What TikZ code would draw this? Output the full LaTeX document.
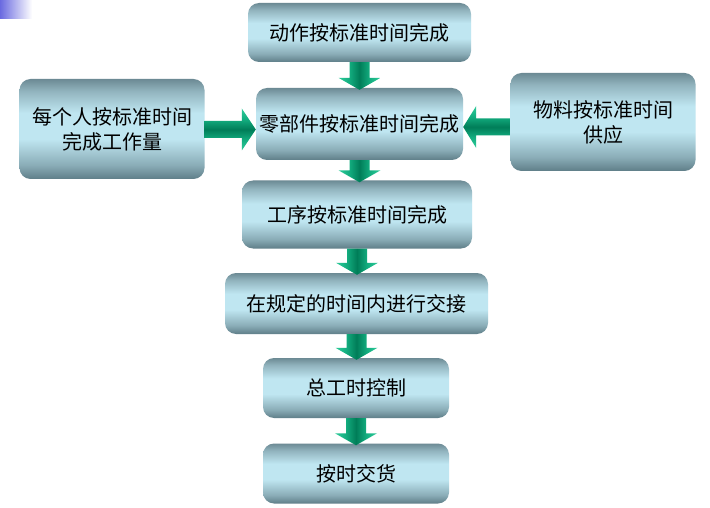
\documentclass[tikz,border=0pt]{standalone}
\usepackage{fontspec}
\newfontfamily\cjk{Noto Sans CJK SC}
\usetikzlibrary{calc}
\definecolor{boxdark}{HTML}{5F7E88}
\definecolor{boxtop}{HTML}{6C8A94}
\definecolor{boxlight}{HTML}{BFE6F1}
\definecolor{arlight}{HTML}{2ECC9A}
\definecolor{armid}{HTML}{14AE80}
\definecolor{ardark}{HTML}{007D58}
\definecolor{cornerblue}{HTML}{6A6AE0}
\pgfdeclareverticalshading{boxshade}{100bp}{color(0bp)=(boxdark); color(25bp)=(boxdark); color(32bp)=(boxdark!55!boxlight); color(45bp)=(boxlight); color(58bp)=(boxlight); color(69bp)=(boxtop!55!boxlight); color(75bp)=(boxtop); color(100bp)=(boxtop)}
\pgfdeclarehorizontalshading{varrshade}{100bp}{color(0bp)=(arlight); color(25bp)=(arlight); color(37.5bp)=(armid); color(50bp)=(ardark); color(62.5bp)=(armid); color(75bp)=(arlight); color(100bp)=(arlight)}
\pgfdeclareverticalshading{harrshade}{100bp}{color(0bp)=(arlight); color(25bp)=(arlight); color(37.5bp)=(armid); color(50bp)=(ardark); color(62.5bp)=(armid); color(75bp)=(arlight); color(100bp)=(arlight)}
\tikzset{
  box/.style={rectangle, rounded corners=11pt, shading=boxshade, draw=none,
    font=\cjk\fontsize{20}{25}\selectfont, text=black, align=center, inner sep=0pt},
  arrowfill/.style={shading=varrshade, draw=none},
  harrowfill/.style={shading=harrshade, draw=none}
}
% vertical arrow from #1 (top box) to #2 (lower box)
\newcommand\vArrow[2]{%
  \path let \p1=(#1.south), \p2=(#2.north) in
    [shade, arrowfill] (\x1-10pt,\y1) -- (\x1+10pt,\y1) -- (\x1+10pt,\y2+10pt)
      -- (\x1+21pt,\y2+10pt) -- (\x1,\y2-2pt) -- (\x1-21pt,\y2+10pt)
      -- (\x1-10pt,\y2+10pt) -- cycle;}
\begin{document}
\begin{tikzpicture}[x=1pt,y=-1pt]
\useasboundingbox (0,0) rectangle (710,508);
\fill[white] (0,0) rectangle (710,508);
\shade[left color=cornerblue, right color=white] (0,0) rectangle (32,19);

\node[box, minimum width=223, minimum height=59] (b1) at (359.5,32.5) {动作按标准时间完成};
\node[box, minimum width=207, minimum height=72] (b2) at (359.5,124) {零部件按标准时间完成};
\node[box, minimum width=185, minimum height=100] (bl) at (112,129) {每个人按标准时间\\完成工作量};
\node[box, minimum width=185, minimum height=98] (br) at (603,122) {物料按标准时间\\供应};
\node[box, minimum width=230, minimum height=68] (b3) at (357,214.5) {工序按标准时间完成};
\node[box, minimum width=263, minimum height=61] (b4) at (356.5,303.5) {在规定的时间内进行交接};
\node[box, minimum width=186, minimum height=60] (b5) at (356,388) {总工时控制};
\node[box, minimum width=186, minimum height=60] (b6) at (356,473.5) {按时交货};

\vArrow{b1}{b2}
\vArrow{b2}{b3}
\vArrow{b3}{b4}
\vArrow{b4}{b5}
\vArrow{b5}{b6}

% horizontal arrows
\path let \p1=(bl.east), \p2=(b2.west) in
  [shade, harrowfill] (\x1,\y1-0.5pt+8.5pt) -- (\x2-14pt,\y1-0.5pt+8.5pt) -- (\x2-14pt,\y1-0.5pt+21pt)
    -- (\x2,\y1-0.5pt) -- (\x2-14pt,\y1-0.5pt-21pt) -- (\x2-14pt,\y1-0.5pt-8.5pt)
    -- (\x1,\y1-0.5pt-8.5pt) -- cycle;
\path let \p1=(br.west), \p2=(b2.east) in
  [shade, harrowfill] (\x1,\y1-5pt+8.5pt) -- (\x2+13pt,\y1-5pt+8.5pt) -- (\x2+13pt,\y1-5pt+21pt)
    -- (\x2,\y1-5pt) -- (\x2+13pt,\y1-5pt-21pt) -- (\x2+13pt,\y1-5pt-8.5pt)
    -- (\x1,\y1-5pt-8.5pt) -- cycle;
\end{tikzpicture}
\end{document}
